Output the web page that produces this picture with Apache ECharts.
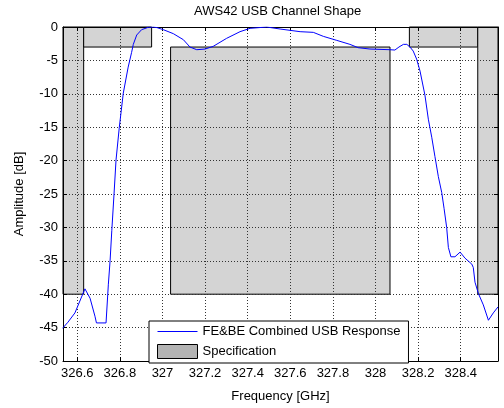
<!DOCTYPE html>
<html>
<head>
<meta charset="utf-8">
<script src="https://cdn.jsdelivr.net/npm/echarts@6/dist/echarts.min.js"></script>
<style>
  html, body { margin: 0; padding: 0; background: #fff; }
  #chart { width: 504px; height: 408px; }
</style>
</head>
<body>
<div id="chart"></div>
<script>
// Combined front-end / back-end USB response of the AWS42 channel
const freqGHz = [
  326.531, 326.556, 326.589, 326.636, 326.660, 326.683, 326.690, 326.735,
  326.746, 326.754, 326.762, 326.772, 326.782, 326.797, 326.816, 326.839,
  326.855, 326.863, 326.879, 326.902, 326.933, 326.957, 326.975, 327.004,
  327.051, 327.098, 327.129, 327.161, 327.200, 327.238, 327.301, 327.364,
  327.411, 327.489, 327.552, 327.646, 327.708, 327.755, 327.818, 327.880,
  327.919, 327.974, 328.068, 328.091, 328.110, 328.131, 328.147, 328.162,
  328.177, 328.185, 328.193, 328.209, 328.232, 328.248, 328.264, 328.279,
  328.295, 328.311, 328.322, 328.334, 328.342, 328.354, 328.373, 328.397,
  328.420, 328.452, 328.459, 328.467, 328.483, 328.506, 328.530, 328.553,
  328.575
];
const responseDb = [
  -45.1, -44.2, -42.8, -39.2, -40.6, -43.3, -44.3, -44.3,
  -38.5, -35.0, -30.5, -25.3, -19.9, -15.1, -9.9, -6.0,
  -3.8, -2.6, -1.2, -0.4, -0.05, 0, -0.1, -0.4,
  -1.0, -1.9, -3.0, -3.4, -3.3, -2.9, -1.7, -0.7,
  -0.2, 0, -0.3, -0.7, -0.8, -1.4, -2.0, -2.6,
  -3.1, -3.3, -3.4, -3.45, -3.0, -2.6, -2.6, -3.0,
  -3.6, -4.2, -4.8, -6.6, -10.2, -13.8, -16.5, -19.4,
  -22.4, -24.8, -27.2, -30.0, -33.0, -34.4, -34.4, -33.7,
  -34.6, -35.5, -36.0, -38.2, -39.9, -41.6, -43.9, -42.8,
  -41.9
];

// Specification mask boxes: [start GHz, end GHz, top dB, bottom dB]
const specStart  = [326.533, 326.630, 327.038, 328.159, 328.480];
const specEnd    = [326.630, 326.949, 328.068, 328.480, 328.575];
const specTop    = [0, 0, -3, 0, 0];
const specBottom = [-40, -3, -40, -3, -40];

// Axis limits and tick labels
const freqMin = 326.533, freqMax = 328.575;
const freqTicks = [326.6, 326.8, 327, 327.2, 327.4, 327.6, 327.8, 328, 328.2, 328.4];
const ampMin = -50, ampMax = 0, ampStep = 5;

const responseName = 'FE&BE Combined USB Response';
const specName = 'Specification';

const fontFamily = '"Liberation Sans", Arial, Helvetica, sans-serif';
const gridLine = { show: true, lineStyle: { color: '#333', type: [1, 2], width: 1 } };

const chart = echarts.init(document.getElementById('chart'), null, { renderer: 'canvas' });

const specData = specStart.map((s, i) => [s, specEnd[i], specTop[i], specBottom[i]]);
const lineData = freqGHz.map((f, i) => [f, responseDb[i]]);

chart.setOption({
  animation: false,
  backgroundColor: '#fff',
  textStyle: { fontFamily: fontFamily },
  title: {
    text: 'AWS42 USB Channel Shape',
    left: 194,
    top: 5,
    padding: 0,
    textStyle: { fontSize: 13, fontWeight: 'normal', color: '#000', fontFamily: fontFamily }
  },
  grid: { left: 63, right: 6, top: 27, bottom: 39, containLabel: false },
  legend: {
    orient: 'vertical',
    left: 149,
    top: 321,
    width: 262,
    padding: [4, 8, 4, 8],
    itemWidth: 40,
    itemHeight: 14,
    itemGap: 6,
    backgroundColor: '#fff',
    borderColor: '#000',
    borderWidth: 1,
    borderRadius: 0,
    z: 10,
    textStyle: { fontSize: 13, color: '#000', fontFamily: fontFamily },
    data: [
      { name: responseName, itemStyle: { opacity: 0 }, lineStyle: { color: '#0000ff', width: 1 } },
      { name: specName, icon: 'rect', itemStyle: { color: '#b3b3b3', borderColor: '#000', borderWidth: 1 } }
    ]
  },
  xAxis: [
    {
      type: 'value',
      min: freqMin,
      max: freqMax,
      z: 3,
      name: 'Frequency [GHz]',
      nameLocation: 'middle',
      nameGap: 29,
      nameTextStyle: { fontSize: 13, color: '#000', fontFamily: fontFamily },
      axisLine: { show: true, onZero: false, lineStyle: { color: '#000', width: 1 } },
      axisTick: { show: true, inside: true, length: 4, customValues: freqTicks, lineStyle: { color: '#000' } },
      axisLabel: { show: true, margin: 6, fontSize: 13, color: '#000', customValues: freqTicks, fontFamily: fontFamily },
      splitLine: gridLine
    },
    {
      type: 'value',
      position: 'top',
      min: freqMin,
      max: freqMax,
      z: 3,
      axisLine: { show: true, onZero: false, lineStyle: { color: '#000', width: 1 } },
      axisTick: { show: true, inside: true, length: 4, customValues: freqTicks, lineStyle: { color: '#000' } },
      axisLabel: { show: false, customValues: freqTicks },
      splitLine: { show: false }
    }
  ],
  yAxis: [
    {
      type: 'value',
      min: ampMin,
      max: ampMax,
      interval: ampStep,
      z: 3,
      name: 'Amplitude [dB]',
      nameLocation: 'middle',
      nameGap: 37,
      nameTextStyle: { fontSize: 13, color: '#000', fontFamily: fontFamily },
      axisLine: { show: true, onZero: false, lineStyle: { color: '#000', width: 1 } },
      axisTick: { show: true, inside: true, length: 4, lineStyle: { color: '#000' } },
      axisLabel: { show: true, margin: 5, fontSize: 13, color: '#000', fontFamily: fontFamily },
      splitLine: gridLine
    },
    {
      type: 'value',
      position: 'right',
      min: ampMin,
      max: ampMax,
      interval: ampStep,
      z: 3,
      axisLine: { show: true, onZero: false, lineStyle: { color: '#000', width: 1 } },
      axisTick: { show: true, inside: true, length: 4, lineStyle: { color: '#000' } },
      axisLabel: { show: false },
      splitLine: { show: false }
    }
  ],
  series: [
    {
      name: specName,
      type: 'custom',
      xAxisIndex: 0,
      yAxisIndex: 0,
      z: 1,
      itemStyle: { color: '#b3b3b3' },
      encode: { x: [0, 1], y: [2, 3] },
      data: specData,
      renderItem: function (params, api) {
        const p0 = api.coord([api.value(0), api.value(2)]);
        const p1 = api.coord([api.value(1), api.value(3)]);
        return {
          type: 'rect',
          shape: { x: p0[0], y: p0[1], width: p1[0] - p0[0], height: p1[1] - p0[1] },
          style: { fill: '#d4d4d4', stroke: '#000', lineWidth: 1 }
        };
      }
    },
    {
      name: responseName,
      type: 'line',
      xAxisIndex: 0,
      yAxisIndex: 0,
      z: 5,
      symbol: 'none',
      showSymbol: false,
      smooth: false,
      clip: true,
      itemStyle: { color: '#0000ff' },
      lineStyle: { color: '#0000ff', width: 1 },
      data: lineData
    }
  ]
});
</script>
</body>
</html>
